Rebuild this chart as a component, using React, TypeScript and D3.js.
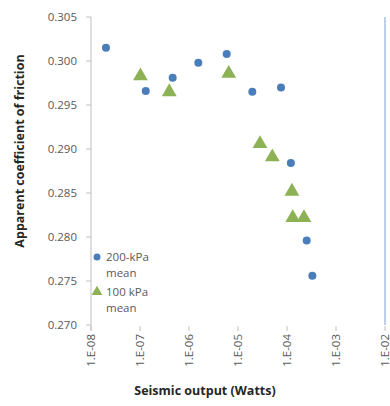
import React from "react";
import * as d3 from "d3";

const series200X = [2.02e-8, 1.31e-7, 4.64e-7, 1.55e-6, 5.88e-6, 1.96e-5, 7.55e-5, 1.2e-4, 2.52e-4, 3.29e-4];
const series200Y = [0.3015, 0.2966, 0.2981, 0.2998, 0.3008, 0.2965, 0.297, 0.2884, 0.2796, 0.2756];
const series100X = [1.02e-7, 3.96e-7, 6.46e-6, 2.81e-5, 5.01e-5, 1.26e-4, 1.31e-4, 2.22e-4];
const series100Y = [0.2984, 0.2966, 0.2987, 0.2907, 0.2892, 0.2853, 0.2823, 0.2823];
const xTicks = [1e-8, 1e-7, 1e-6, 1e-5, 1e-4, 1e-3, 1e-2];
const xTickLabels = ["1.E-08", "1.E-07", "1.E-06", "1.E-05", "1.E-04", "1.E-03", "1.E-02"];
const yTicks = [0.27, 0.275, 0.28, 0.285, 0.29, 0.295, 0.3, 0.305];
const legendLabels = [["200-kPa", "mean"], ["100 kPa", "mean"]];

const BLUE = "#4a7ebb";
const GREEN = "#8db255";
const FONT = "'Open Sans', 'Liberation Sans', sans-serif";

export default function App() {
  const x = d3.scaleLog().domain([1e-8, 1e-2]).range([91, 385]);
  const y = d3.scaleLinear().domain([0.27, 0.305]).range([325, 17]);
  const tri = d3.symbol().type(d3.symbolTriangle).size(95)();
  const yFmt = d3.format(".3f");

  return (
    <svg width={390} height={406} style={{ position: "absolute", left: 0, top: 0 }} fontFamily={FONT}>
      <rect width={390} height={406} fill="#fff" />
      {/* y axis */}
      <line x1={91} x2={91} y1={y(0.305)} y2={y(0.27) + 5} stroke="#bfbfbf" />
      {yTicks.map((t) => (
        <g key={t}>
          <line x1={86} x2={91} y1={y(t)} y2={y(t)} stroke="#bfbfbf" />
          <text x={77} y={y(t)} dy="0.35em" textAnchor="end" fontSize={11.5} fill="#595959">
            {yFmt(t)}
          </text>
        </g>
      ))}
      {/* right vertical line at 1E-02 */}
      <line x1={x(1e-2)} x2={x(1e-2)} y1={y(0.305)} y2={y(0.27)} stroke="#a9bfe0" strokeWidth={1.5} />
      {/* x ticks */}
      {xTicks.map((t, i) => (
        <g key={t}>
          <line x1={x(t)} x2={x(t)} y1={y(0.27) + 1} y2={y(0.27) + 6} stroke="#bfbfbf" />
          <text
            transform={`translate(${x(t)},${y(0.27) + 9}) rotate(-90)`}
            dy="0.35em"
            textAnchor="end"
            fontSize={11.5}
            fill="#595959"
          >
            {xTickLabels[i]}
          </text>
        </g>
      ))}
      {/* data */}
      {series200X.map((v, i) => (
        <circle key={"b" + i} cx={x(v)} cy={y(series200Y[i])} r={4} fill={BLUE} />
      ))}
      {series100X.map((v, i) => (
        <path key={"g" + i} d={tri ?? ""} transform={`translate(${x(v)},${y(series100Y[i]) + 1})`} fill={GREEN} />
      ))}
      {/* legend */}
      <circle cx={97} cy={257} r={3.5} fill={BLUE} />
      <path d={d3.symbol().type(d3.symbolTriangle).size(50)() ?? ""} transform="translate(97,292)" fill={GREEN} />
      {legendLabels.map((lines, i) => (
        <text key={i} x={106} y={i === 0 ? 257 : 292} fontSize={11.5} fill="#595959">
          <tspan x={106} dy="0.35em">{lines[0]}</tspan>
          <tspan x={106} dy="16">{lines[1]}</tspan>
        </text>
      ))}
      {/* axis titles */}
      <text x={205} y={395} textAnchor="middle" fontSize={12.5} fontWeight="bold" fill="#262626">
        Seismic output (Watts)
      </text>
      <text transform="translate(20,151) rotate(-90)" dy="0.35em" textAnchor="middle" fontSize={12.5} fontWeight="bold" fill="#262626">
        Apparent coefficient of friction
      </text>
    </svg>
  );
}
